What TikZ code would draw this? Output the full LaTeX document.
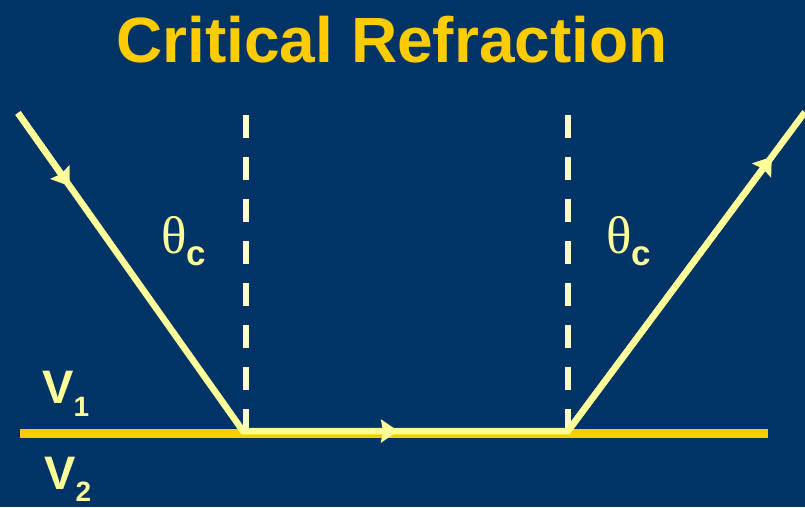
\documentclass[tikz,border=0pt]{standalone}
\usepackage{fontspec}
\setmainfont{Liberation Sans}
\newfontfamily\thetafont{Liberation Serif}
\usetikzlibrary{arrows.meta,calc}
\definecolor{bgblue}{HTML}{003366}
\definecolor{gold}{HTML}{FFCC00}
\definecolor{ray}{HTML}{FFFF99}
\definecolor{dashc}{HTML}{FFFFCC}
\begin{document}
\begin{tikzpicture}[x=1pt,y=-1pt,
  raystyle/.style={draw=ray,line width=6.5pt,line join=miter},
  arrowtip/.style={draw=ray,line width=6.5pt,-{Stealth[length=17pt,width=23pt,inset=2pt]}},
  normalline/.style={draw=dashc,line width=5.5pt,dash pattern=on 23pt off 19pt},
  iface/.style={draw=gold,line width=9pt},
  lab/.style={text=ray,inner sep=0pt,anchor=base west}]
\useasboundingbox (0,0) rectangle (805,507);
\fill[bgblue] (0,0) rectangle (805,507);
\node[text=gold,anchor=base,inner sep=0pt,font=\fontsize{64}{64}\selectfont\bfseries] (title) at (392,62) {Critical Refraction};
% interface
\coordinate (il) at (20,433);
\coordinate (ir) at (768,433);
\draw[iface] (il) -- (ir);
% normals
\coordinate (n1t) at (246,115);
\coordinate (n1b) at (246,432);
\coordinate (n2t) at (568,115);
\coordinate (n2b) at (568,432);
\draw[normalline] (n1t) -- (n1b);
\draw[normalline] (n2t) -- (n2b);
% ray
\coordinate (s) at (18,113);
\coordinate (p1) at (243,431);
\coordinate (p2) at (568,431);
\coordinate (e) at (805,112);
\draw[raystyle] (s) -- (p1) -- (p2) -- (e);
\draw[arrowtip] (s) -- ($(s)!0.23!(p1)$);
\draw[arrowtip] (p1) -- ($(p1)!0.477!(p2)$);
\draw[arrowtip] (p2) -- ($(p2)!0.86!(e)$);
% labels
\node[lab] (th1) at (161,253) {{\thetafont\fontsize{53}{53}\selectfont θ}\raisebox{-12pt}{\fontsize{35}{35}\selectfont\bfseries c}};
\node[lab] (th2) at (606,253) {{\thetafont\fontsize{53}{53}\selectfont θ}\raisebox{-12pt}{\fontsize{35}{35}\selectfont\bfseries c}};
\node[lab] (v1) at (42,403) {\fontsize{47}{47}\selectfont\bfseries V\raisebox{-13pt}{\fontsize{28}{28}\selectfont 1}};
\node[lab] (v2) at (44,489) {\fontsize{47}{47}\selectfont\bfseries V\raisebox{-12pt}{\fontsize{28}{28}\selectfont 2}};
\end{tikzpicture}
\end{document}
